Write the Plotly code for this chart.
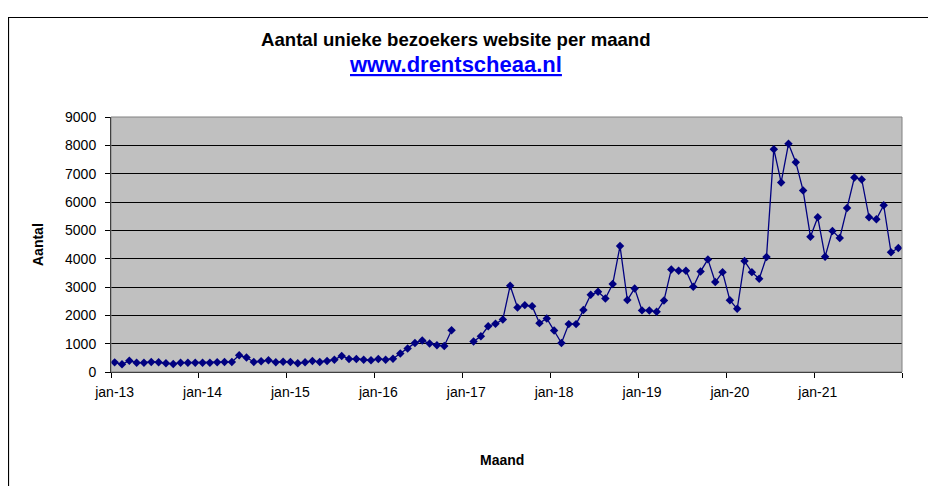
import plotly.graph_objects as go

# Monthly unique visitors, jan-13 .. dec-21 (None = no data)
visitors = [
    340, 270, 400, 330, 330, 355, 345, 310, 285, 330, 330, 330,          # 2013
    330, 330, 345, 355, 355, 590, 510, 355, 380, 415, 345, 365,          # 2014
    355, 310, 345, 390, 355, 390, 435, 565, 460, 460, 435, 415,          # 2015
    460, 435, 470, 650, 830, 1025, 1110, 1005, 945, 920, 1475, None,     # 2016
    None, 1075, 1265, 1615, 1700, 1855, 3045, 2280, 2360, 2325, 1725, 1890,  # 2017
    1465, 1025, 1690, 1690, 2185, 2725, 2830, 2595, 3105, 4445, 2540, 2950,  # 2018
    2175, 2170, 2125, 2525, 3620, 3575, 3575, 3010, 3550, 3975, 3175, 3525,  # 2019
    2535, 2230, 3915, 3525, 3290, 4060, 7865, 6690, 8055, 7405, 6405, 4775,  # 2020
    5460, 4070, 4980, 4730, 5790, 6865, 6795, 5460, 5390, 5885, 4225, 4375,  # 2021
]
year_labels = ["jan-13", "jan-14", "jan-15", "jan-16", "jan-17",
               "jan-18", "jan-19", "jan-20", "jan-21"]
y_ticks = [0, 1000, 2000, 3000, 4000, 5000, 6000, 7000, 8000, 9000]

month_index = list(range(len(visitors)))
label_pos = [12 * k for k in range(len(year_labels))]
boundary_pos = [12 * k - 0.5 for k in range(len(year_labels) + 1)]

FONT = "Liberation Sans, Arial, sans-serif"
NAVY = "#000080"

fig = go.Figure()
fig.add_trace(go.Scatter(
    x=month_index, y=visitors, mode="lines+markers",
    line=dict(color=NAVY, width=1.3),
    marker=dict(symbol="diamond", size=6.5, color=NAVY),
    connectgaps=False, showlegend=False, hoverinfo="skip",
))

# page body has an 8px margin, so the figure starts at (8, 8) in the window
OFF = 8
W, H = 936 - OFF, 486 - OFF
L, T = 111 - OFF, 117 - OFF
R, B = 34, 114
pw, ph = W - L - R, H - T - B

def px(xp):  # window pixel x -> paper
    return (xp - OFF - L) / pw

def py(yp):  # window pixel y -> paper
    return (H - B - (yp - OFF)) / ph

fig.update_layout(
    width=W, height=H,
    margin=dict(l=L, r=R, t=T, b=B),
    paper_bgcolor="white", plot_bgcolor="#C0C0C0",
    font=dict(family=FONT, color="black", size=14),
    xaxis=dict(
        range=[-0.5, len(visitors) - 0.5],
        tickmode="array", tickvals=label_pos, ticktext=year_labels,
        ticks="", showgrid=False, zeroline=False,
        showline=True, linecolor="black", linewidth=1,
        ticklabelstandoff=7,
        tickfont=dict(size=14, family=FONT, color="black"),
        minor=dict(tickmode="array", tickvals=boundary_pos, ticks="outside",
                   ticklen=5, tickcolor="black", tickwidth=1, showgrid=False),
    ),
    yaxis=dict(
        range=[0, 9000], tickmode="array", tickvals=y_ticks,
        ticktext=[str(v) for v in y_ticks],
        ticks="outside", ticklen=5, tickcolor="black",
        showgrid=True, gridcolor="black", gridwidth=1,
        zeroline=False, showline=True, linecolor="black", linewidth=1,
        ticklabelstandoff=6,
        tickfont=dict(size=14, family=FONT, color="black"),
    ),
    shapes=[
        # gray plot-area frame (top/right)
        dict(type="rect", xref="paper", yref="paper", x0=0, x1=1, y0=0, y1=1,
             line=dict(color="#808080", width=1), layer="above"),
        # chart area border
        dict(type="rect", xref="paper", yref="paper",
             x0=px(8.5), x1=px(933.5), y0=py(500), y1=py(17.5),
             line=dict(color="black", width=1.2), layer="above"),
    ],
    annotations=[
        dict(text="<b>Aantal unieke bezoekers website per maand</b>",
             xref="paper", yref="paper", x=px(456), y=py(40),
             showarrow=False, xanchor="center", yanchor="middle",
             font=dict(size=18.6, family=FONT, color="black")),
        dict(text="<b><u>www.drentscheaa.nl</u></b>",
             xref="paper", yref="paper", x=px(455), y=py(64),
             showarrow=False, xanchor="center", yanchor="middle",
             font=dict(size=22, family=FONT, color="#0000FF")),
        dict(text="<b>Aantal</b>", textangle=-90,
             xref="paper", yref="paper", x=px(38), y=py(245),
             showarrow=False, xanchor="center", yanchor="middle",
             font=dict(size=14, family=FONT, color="black")),
        dict(text="<b>Maand</b>",
             xref="paper", yref="paper", x=px(502), y=py(460),
             showarrow=False, xanchor="center", yanchor="middle",
             font=dict(size=14, family=FONT, color="black")),
    ],
)

fig.write_html("out.html")
